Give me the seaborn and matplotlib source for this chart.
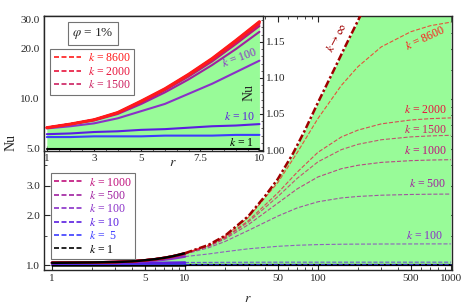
import numpy as np
import pandas as pd
import matplotlib
matplotlib.use("Agg")
import matplotlib.pyplot as plt
import seaborn as sns
from matplotlib.lines import Line2D
from matplotlib.ticker import FixedLocator, NullFormatter, FixedFormatter

# ---- data ----
# small r (inset, linear axis), r = 1 .. 10
r_in = [1, 2, 3, 4, 5, 6, 7, 8, 9, 10]
nu_in_inf = [1.031, 1.036, 1.042, 1.052, 1.068, 1.085, 1.105, 1.127, 1.152, 1.178]
nu_in_8600 = [1.031, 1.036, 1.042, 1.052, 1.068, 1.085, 1.105, 1.127, 1.152, 1.178]
nu_in_2000 = [1.031, 1.036, 1.042, 1.052, 1.067, 1.084, 1.104, 1.126, 1.150, 1.176]
nu_in_1500 = [1.031, 1.036, 1.042, 1.051, 1.067, 1.084, 1.103, 1.125, 1.149, 1.175]
nu_in_1000 = [1.031, 1.036, 1.042, 1.051, 1.066, 1.083, 1.102, 1.123, 1.147, 1.172]
nu_in_500 = [1.031, 1.036, 1.041, 1.050, 1.064, 1.080, 1.098, 1.118, 1.140, 1.164]
nu_in_100 = [1.030, 1.033, 1.037, 1.044, 1.054, 1.064, 1.078, 1.092, 1.108, 1.124]
nu_in_10 = [1.022, 1.023, 1.025, 1.026, 1.028, 1.029, 1.031, 1.033, 1.034, 1.036]
nu_in_5 = [1.018, 1.018, 1.019, 1.019, 1.019, 1.020, 1.020, 1.020, 1.021, 1.021]
nu_in_1 = [1.001, 1.001, 1.001, 1.001, 1.001, 1.001, 1.001, 1.001, 1.001, 1.001]

# large r (main, log axis), r = 10 .. 1000
r_out = [10, 15, 20, 30, 50, 70, 100, 150, 200, 300, 500, 700, 1000]
nu_out_8600 = [1.178, 1.317, 1.492, 1.94, 3.14, 4.76, 7.62, 12.06, 15.64, 20.6, 25.4, 27.6, 29.0]
nu_out_2000 = [1.176, 1.306, 1.466, 1.85, 2.72, 3.63, 4.77, 5.90, 6.49, 7.08, 7.47, 7.61, 7.69]
nu_out_1500 = [1.175, 1.301, 1.455, 1.815, 2.585, 3.33, 4.18, 4.95, 5.33, 5.68, 5.91, 5.99, 6.04]
nu_out_1000 = [1.172, 1.292, 1.435, 1.751, 2.36, 2.876, 3.39, 3.80, 3.985, 4.149, 4.25, 4.286, 4.307]
nu_out_500 = [1.164, 1.269, 1.385, 1.615, 1.971, 2.208, 2.403, 2.534, 2.587, 2.632, 2.659, 2.669, 2.674]
nu_out_100 = [1.124, 1.165, 1.202, 1.252, 1.296, 1.315, 1.327, 1.334, 1.336, 1.338, 1.339, 1.340, 1.340]
nu_out_10 = [1.036, 1.037, 1.038, 1.039, 1.040, 1.040, 1.040, 1.040, 1.040, 1.040, 1.040, 1.040, 1.040]
nu_out_5 = [1.021, 1.021, 1.021, 1.021, 1.021, 1.021, 1.021, 1.021, 1.021, 1.021, 1.021, 1.021, 1.021]
nu_out_1 = [1.001, 1.001, 1.001, 1.001, 1.001, 1.001, 1.001, 1.001, 1.001, 1.001, 1.001, 1.001, 1.001]

# k -> infinity envelope
r_inf = [10, 15, 20, 30, 40, 50, 65, 80, 100, 130, 160, 200, 230]
nu_inf = [1.178, 1.32, 1.5, 1.97, 2.6, 3.3, 4.7, 6.5, 9.5, 14.6, 20.6, 29.6, 37.0]

k_values = ["8600", "2000", "1500", "1000", "500", "100", "10", "5", "1"]
k_colors = {"8600": "#ff1a1a", "2000": "#e8143c", "1500": "#cc2060",
            "1000": "#c0107c", "500": "#a020a0", "100": "#8a30c8",
            "10": "#5a1ee0", "5": "#3c3cff", "1": "#000000"}
inf_color = "#a00000"
green = "#98fb98"

curves_in = {"8600": nu_in_8600, "2000": nu_in_2000, "1500": nu_in_1500,
             "1000": nu_in_1000, "500": nu_in_500, "100": nu_in_100,
             "10": nu_in_10, "5": nu_in_5, "1": nu_in_1}
curves_out = {"8600": nu_out_8600, "2000": nu_out_2000, "1500": nu_out_1500,
              "1000": nu_out_1000, "500": nu_out_500, "100": nu_out_100,
              "10": nu_out_10, "5": nu_out_5, "1": nu_out_1}

sns.set_theme(style="ticks")
plt.rcParams["font.family"] = ["Liberation Serif", "DejaVu Serif"]
plt.rcParams["mathtext.fontset"] = "stix"
plt.rcParams["xtick.direction"] = "in"
plt.rcParams["ytick.direction"] = "in"

fig = plt.figure(figsize=(4.63, 3.07), dpi=100)
ax = fig.add_axes([0.095, 0.1205, 0.881, 0.8275])
ax.set_xscale("log")
ax.set_yscale("log")

# ---- main plot ----
fill_r = r_in + r_inf[1:] + [r_out[-1]]
fill_top = nu_in_inf + nu_inf[1:] + [nu_inf[-1]]
ax.fill_between(fill_r, nu_out_1[0], fill_top, color=green, lw=0, zorder=1)

for k in reversed(k_values):
    sns.lineplot(x=r_in, y=curves_in[k], ax=ax, color=k_colors[k], lw=1.8,
                 sort=False, estimator=None, zorder=3)
    sns.lineplot(x=r_out, y=curves_out[k], ax=ax, color=k_colors[k],
                 lw=0.8 if k != "1" else 1.6,
                 ls="--" if k != "1" else "-", alpha=0.75 if k != "1" else 1,
                 dashes=(4, 3) if k != "1" else (None, None),
                 sort=False, estimator=None, zorder=3)
sns.lineplot(x=r_in, y=nu_in_inf, ax=ax, color="black", lw=1.8,
             sort=False, estimator=None, zorder=4)
sns.lineplot(x=r_inf, y=nu_inf, ax=ax, color=inf_color, lw=1.8,
             ls=(0, (3, 1, 1, 1)), sort=False, estimator=None, zorder=4)

ax.set_xlim(0.87, 1018)
ax.set_ylim(0.933, 31.6)
ax.xaxis.set_major_locator(FixedLocator([1, 5, 10, 50, 100, 500, 1000]))
ax.xaxis.set_major_formatter(FixedFormatter(["1", "5", "10", "50", "100", "500", "1000"]))
ax.xaxis.set_minor_locator(FixedLocator([2, 3, 4, 6, 7, 8, 9, 20, 30, 40, 60, 70, 80, 90,
                                         200, 300, 400, 600, 700, 800, 900]))
ax.xaxis.set_minor_formatter(NullFormatter())
ax.yaxis.set_major_locator(FixedLocator([1, 2, 3, 5, 10, 20, 30]))
ax.yaxis.set_major_formatter(FixedFormatter(["1.0", "2.0", "3.0", "5.0", "10.0", "20.0", "30.0"]))
ax.yaxis.set_minor_locator(FixedLocator([1.5, 4, 6, 7, 8, 9, 15, 25]))
ax.yaxis.set_minor_formatter(NullFormatter())
ax.tick_params(which="both", top=True, right=True, labelsize=8, pad=3)
ax.tick_params(which="major", length=4, width=0.8)
ax.tick_params(which="minor", length=2, width=0.6)
for s in ax.spines.values():
    s.set_linewidth(1.0)
ax.set_xlabel("$r$", fontsize=10, labelpad=6)
ax.set_ylabel("Nu", fontsize=10, labelpad=2)
ax.grid(False)

# labels along the right side
ts = 8.5
ax.text(0.934, 0.913, "$k$ = 8600", transform=ax.transAxes, color=k_colors["8600"],
        fontsize=ts, rotation=25, ha="center", va="center")
ax.text(0.934, 0.630, "$k$ = 2000", transform=ax.transAxes, color=k_colors["2000"],
        fontsize=ts, ha="center", va="center")
ax.text(0.934, 0.551, "$k$ = 1500", transform=ax.transAxes, color=k_colors["1500"],
        fontsize=ts, ha="center", va="center")
ax.text(0.934, 0.469, "$k$ = 1000", transform=ax.transAxes, color=k_colors["1000"],
        fontsize=ts, ha="center", va="center")
ax.text(0.939, 0.339, "$k$ = 500", transform=ax.transAxes, color=k_colors["500"],
        fontsize=ts, ha="center", va="center")
ax.text(0.934, 0.134, "$k$ = 100", transform=ax.transAxes, color=k_colors["100"],
        fontsize=ts, ha="center", va="center")
ax.text(0.718, 0.913, r"$k \rightarrow \infty$", transform=ax.transAxes, color=inf_color,
        fontsize=ts, rotation=62, ha="center", va="center")

# main legend
main_keys = ["1000", "500", "100", "10", "5", "1"]
main_labels = ["$k$ = 1000", "$k$ = 500", "$k$ = 100", "$k$ = 10", "$k$ =  5", "$k$ = 1"]
handles = [Line2D([], [], color=k_colors[k], lw=1.2, ls=(0, (3, 1.5))) for k in main_keys]
leg = ax.legend(handles, main_labels, loc="upper left", bbox_to_anchor=(0.017, 0.382),
                borderaxespad=0, fontsize=8.5, labelspacing=0.12, handlelength=2.3,
                handletextpad=0.6, borderpad=0.3, fancybox=False, framealpha=1,
                edgecolor="0.45")
leg.get_frame().set_linewidth(0.8)
for t, k in zip(leg.get_texts(), main_keys):
    t.set_color(k_colors[k])

# ---- inset ----
axi = fig.add_axes([0.095, 0.508, 0.473, 0.44])
axi.set_facecolor("white")
axi.fill_between(r_in, nu_in_1, nu_in_inf, color=green, lw=0, zorder=1)
for k in reversed(k_values):
    sns.lineplot(x=r_in, y=curves_in[k], ax=axi, color=k_colors[k], lw=1.5,
                 sort=False, estimator=None, zorder=3)
sns.lineplot(x=r_in, y=nu_in_inf, ax=axi, color=k_colors["8600"], lw=2.2,
             sort=False, estimator=None, zorder=4)
axi.set_xlim(0.88, 10.15)
axi.set_ylim(0.9986, 1.186)
axi.xaxis.set_major_locator(FixedLocator([1, 3, 5, 7.5, 10]))
axi.xaxis.set_major_formatter(FixedFormatter(["1", "3", "5", "7.5", "10"]))
axi.xaxis.set_minor_locator(FixedLocator([1.5, 2, 2.5, 3.5, 4, 4.5, 5.5, 6, 6.5, 7, 8, 8.5, 9, 9.5]))
axi.yaxis.set_major_locator(FixedLocator([1.00, 1.05, 1.10, 1.15]))
axi.yaxis.set_major_formatter(FixedFormatter(["1.00", "1.05", "1.10", "1.15"]))
axi.yaxis.set_minor_locator(FixedLocator([1.01, 1.02, 1.03, 1.04, 1.06, 1.07, 1.08, 1.09,
                                          1.11, 1.12, 1.13, 1.14, 1.16, 1.17, 1.18]))
axi.tick_params(which="both", left=False, labelleft=False, right=True, labelright=True,
                top=False, labelsize=8, pad=2)
axi.tick_params(which="major", length=3.5, width=0.8)
axi.tick_params(which="minor", length=1.8, width=0.5)
axi.set_xlabel("")
axi.set_ylabel("")
for s in axi.spines.values():
    s.set_linewidth(1.0)
axi.grid(False)

axi.text(0.589, -0.085, "$r$", transform=axi.transAxes, fontsize=10, ha="center", va="center")
axi.text(0.935, 0.43, "Nu", transform=axi.transAxes, fontsize=10, rotation=90,
         ha="center", va="center")
axi.text(0.895, 0.689, "$k$ = 100", transform=axi.transAxes, color=k_colors["100"],
         fontsize=ts, rotation=20, ha="center", va="center")
axi.text(0.895, 0.252, "$k$ = 10", transform=axi.transAxes, color=k_colors["10"],
         fontsize=ts, ha="center", va="center")
axi.text(0.904, 0.059, "$k$ = 1", transform=axi.transAxes, color="black",
         fontsize=ts, ha="center", va="center")
axi.text(0.224, 0.867, r"$\varphi$ = 1%", transform=axi.transAxes, fontsize=9.5,
         ha="center", va="center",
         bbox=dict(boxstyle="square,pad=0.3", fc="white", ec="0.45", lw=0.8))

in_keys = ["8600", "2000", "1500"]
in_labels = ["$k$ = 8600", "$k$ = 2000", "$k$ = 1500"]
handles = [Line2D([], [], color=k_colors[k], lw=1.2, ls=(0, (3, 1.5))) for k in in_keys]
leg2 = axi.legend(handles, in_labels, loc="upper left", bbox_to_anchor=(0.028, 0.756),
                  borderaxespad=0, fontsize=8.5, labelspacing=0.12, handlelength=2.3,
                  handletextpad=0.6, borderpad=0.3, fancybox=False, framealpha=1,
                  edgecolor="0.45")
leg2.get_frame().set_linewidth(0.8)
for t, k in zip(leg2.get_texts(), in_keys):
    t.set_color(k_colors[k])

fig.savefig("out.png", dpi=100)
